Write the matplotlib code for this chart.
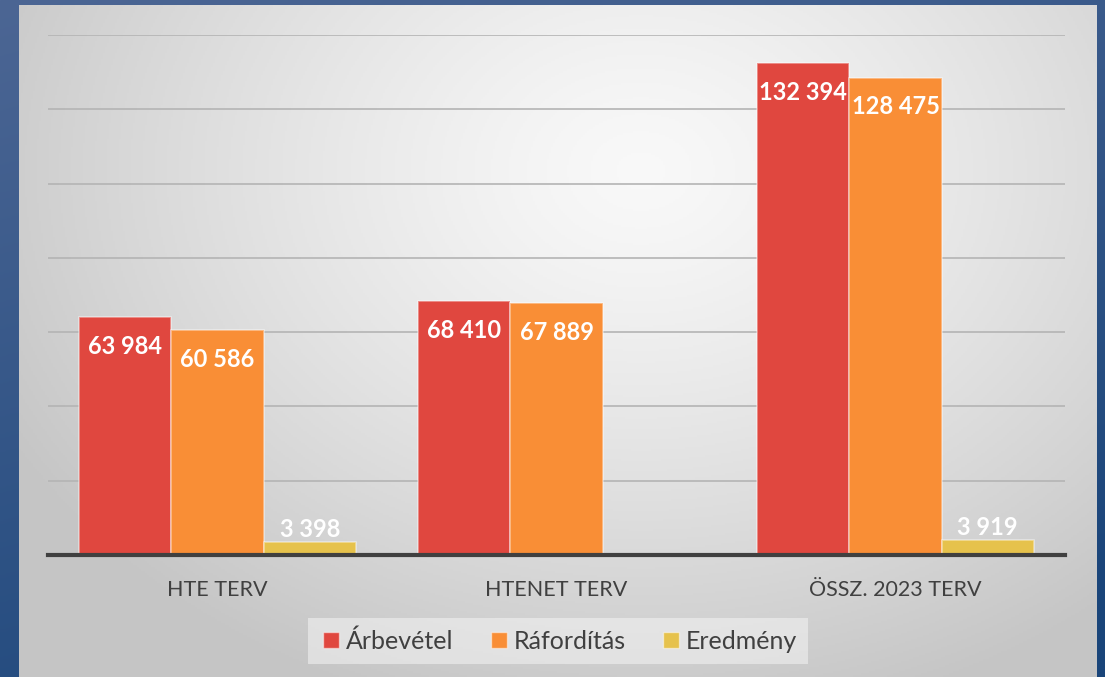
import numpy as np
import matplotlib.pyplot as plt
from matplotlib.lines import Line2D

# adatok
categories = ['HTE TERV', 'HTENET TERV', 'ÖSSZ. 2023 TERV']
series = ['Árbevétel', 'Ráfordítás', 'Eredmény']
arbevetel = [63984, 68410, 132394]
raforditas = [60586, 67889, 128475]
eredmeny = [3398, np.nan, 3919]
colors = ['#e0473f', '#f98e36', '#e6c24c']

plt.rcParams['font.family'] = ['Lato', 'DejaVu Sans']

W, H = 1105, 677
fig = plt.figure(figsize=(W / 100, H / 100), dpi=100)

# hatter: kek keret + szurke radialis panel
bg = fig.add_axes([0, 0, 1, 1], zorder=-2)
bg.set_xlim(0, W)
bg.set_ylim(H, 0)
bg.axis('off')
yy, xx = np.mgrid[0:H:3, 0:W:3]
t = np.clip(0.75 * yy / H + 0.35 * xx / W, 0, 1)[..., None]
top = np.array([0x4c, 0x66, 0x94]) / 255
bot = np.array([0x1a, 0x45, 0x7a]) / 255
blue = top * (1 - t) + bot * t
bg.imshow(blue, extent=[0, W, H, 0], aspect='auto')

yy, xx = np.mgrid[5:H:2, 19:1097:2]
r = np.sqrt(((xx - 640) / 720) ** 2 + ((yy - 170) / 560) ** 2)
r = np.clip(r, 0, 1)
g = 0.975 - 0.20 * r ** 1.3
panel = np.dstack([g, g, g])
bg.imshow(panel, extent=[19, 1097, H, 5], aspect='auto')

# fo diagram
ax = fig.add_axes([48 / W, 122 / H, (1065 - 48) / W, 520 / H])
ax.patch.set_alpha(0)
ax.set_xlim(-0.5, 2.5)
ax.set_ylim(0, 140000)

data = [arbevetel, raforditas, eredmeny]
w = 0.272
for j, d in enumerate(data):
    for i, v in enumerate(d):
        if np.isnan(v):
            continue
        x = i + (j - 1) * w
        ax.bar(x, v, width=w, color=colors[j], edgecolor=(1, 1, 1, 0.45),
               linewidth=1.2, zorder=3)
        txt = f'{v:,.0f}'.replace(',', ' ')
        off = -21 if v > 10000 else 9
        ax.annotate(txt, (x, v), xytext=(0, off), textcoords='offset points',
                    ha='center', va='center', color='white',
                    fontsize=17, fontweight='bold', zorder=4)

ax.set_yticks(np.arange(20000, 140001, 20000))
ax.yaxis.grid(True, color='#b4b4b4', linewidth=1.2, zorder=0)
ax.tick_params(axis='y', left=False, labelleft=False)
ax.set_xticks(range(len(categories)))
ax.set_xticklabels(categories, fontsize=15.5, color='#404040')
ax.tick_params(axis='x', length=0, pad=18)
for s in ['top', 'right', 'left']:
    ax.spines[s].set_visible(False)
ax.spines['bottom'].set_color('#404040')
ax.spines['bottom'].set_linewidth(3)
ax.spines['bottom'].set_zorder(5)

handles = [Line2D([], [], marker='s', linestyle='none', markersize=11,
                  markerfacecolor=c, markeredgecolor=(1, 1, 1, 0.5))
           for c in colors]
leg = fig.legend(handles, series, loc='center', bbox_to_anchor=(558 / W, 1 - 641 / H),
                 ncol=3, frameon=True, fontsize=18, handletextpad=0.1,
                 columnspacing=1.3, handlelength=1.0, borderpad=0.35)
leg.get_frame().set_facecolor('#f4f4f4')
leg.get_frame().set_edgecolor('none')
leg.get_frame().set_alpha(0.55)
leg.get_frame().set_boxstyle('square', pad=0.1)
for tx in leg.get_texts():
    tx.set_color('#404040')

fig.savefig('out.png', dpi=100)
